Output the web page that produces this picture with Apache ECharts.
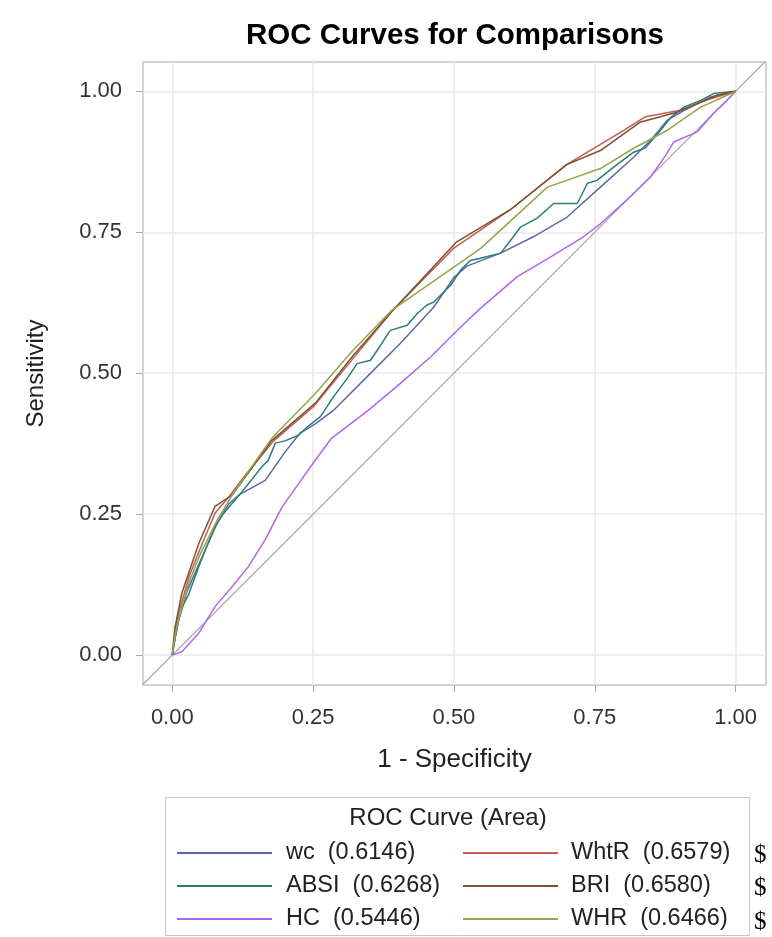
<!DOCTYPE html>
<html>
<head>
<meta charset="utf-8">
<script src="https://cdn.jsdelivr.net/npm/echarts@6/dist/echarts.min.js"></script>
<style>
html,body{margin:0;padding:0;background:#fff;}
#chart{width:772px;height:937px;}
</style>
</head>
<body>
<div id="chart"></div>
<script>
const seriesNames = ['wc', 'WhtR', 'ABSI', 'BRI', 'HC', 'WHR'];
const aucValues = ['0.6146', '0.6579', '0.6268', '0.6580', '0.5446', '0.6466'];
const tickValues = [0, 0.25, 0.5, 0.75, 1];
const diagonal = [[-0.1, -0.1], [1.1, 1.1]];

const wc = [[0,0],[0.005,0.03],[0.012,0.065],[0.025,0.11],[0.04,0.145],[0.06,0.19],[0.08,0.235],[0.1,0.268],[0.12,0.285],[0.165,0.31],[0.2,0.36],[0.227,0.394],[0.254,0.41],[0.286,0.434],[0.346,0.494],[0.405,0.553],[0.464,0.617],[0.5,0.67],[0.523,0.69],[0.583,0.713],[0.641,0.742],[0.701,0.777],[0.76,0.83],[0.819,0.883],[0.849,0.913],[0.879,0.949],[0.908,0.966],[0.956,0.99],[1,1]];
const WhtR = [[0,0],[0.005,0.045],[0.01,0.07],[0.03,0.14],[0.05,0.19],[0.076,0.252],[0.1,0.28],[0.13,0.32],[0.18,0.38],[0.25,0.44],[0.32,0.525],[0.39,0.61],[0.5,0.722],[0.6,0.79],[0.7,0.87],[0.8,0.93],[0.84,0.955],[0.9,0.966],[0.95,0.985],[1,1]];
const ABSI = [[0,0],[0.005,0.03],[0.011,0.062],[0.02,0.09],[0.03,0.11],[0.047,0.157],[0.06,0.19],[0.076,0.228],[0.09,0.25],[0.106,0.269],[0.124,0.29],[0.14,0.31],[0.159,0.334],[0.17,0.345],[0.183,0.376],[0.2,0.38],[0.224,0.39],[0.24,0.405],[0.263,0.423],[0.286,0.458],[0.31,0.49],[0.328,0.517],[0.352,0.523],[0.37,0.55],[0.387,0.576],[0.417,0.585],[0.435,0.606],[0.452,0.621],[0.464,0.626],[0.494,0.656],[0.512,0.683],[0.529,0.7],[0.547,0.704],[0.583,0.713],[0.6,0.735],[0.618,0.759],[0.648,0.775],[0.677,0.801],[0.719,0.801],[0.737,0.837],[0.754,0.842],[0.784,0.866],[0.819,0.892],[0.84,0.9],[0.867,0.931],[0.885,0.954],[0.908,0.972],[0.938,0.984],[0.961,0.996],[1,1]];
const BRI = [[0,0],[0.005,0.05],[0.017,0.11],[0.047,0.198],[0.076,0.264],[0.106,0.284],[0.14,0.33],[0.177,0.381],[0.254,0.447],[0.32,0.53],[0.39,0.61],[0.505,0.733],[0.6,0.79],[0.7,0.87],[0.76,0.895],[0.83,0.945],[0.896,0.963],[0.967,0.993],[1,1]];
const HC = [[0,0],[0.017,0.006],[0.047,0.039],[0.076,0.086],[0.105,0.12],[0.135,0.157],[0.165,0.205],[0.195,0.263],[0.225,0.305],[0.254,0.346],[0.283,0.385],[0.345,0.432],[0.405,0.482],[0.46,0.53],[0.512,0.582],[0.547,0.615],[0.612,0.671],[0.671,0.706],[0.73,0.742],[0.76,0.765],[0.813,0.813],[0.849,0.848],[0.875,0.885],[0.89,0.91],[0.932,0.928],[0.961,0.961],[0.985,0.984],[1,1]];
const WHR = [[0,0],[0.005,0.035],[0.01,0.06],[0.03,0.13],[0.05,0.18],[0.08,0.24],[0.11,0.29],[0.177,0.385],[0.254,0.464],[0.32,0.54],[0.39,0.612],[0.547,0.721],[0.666,0.83],[0.76,0.863],[0.819,0.899],[0.879,0.931],[0.938,0.972],[0.985,0.993],[1,1]];

const seriesData = { wc, WhtR, ABSI, BRI, HC, WHR };
const colors = { wc:'#5B69A8', WhtR:'#C45A52', ABSI:'#2A7E76', BRI:'#7A5230', HC:'#B066EE', WHR:'#93A64C' };

const font = '"Liberation Sans", Arial, Helvetica, sans-serif';
const chart = echarts.init(document.getElementById('chart'));

const series = seriesNames.map(n => ({
  name: n, type: 'line', data: seriesData[n], showSymbol: false, symbol: 'none',
  lineStyle: { color: colors[n], width: 1.5 }, itemStyle: { color: colors[n] },
  clip: true, animation: false, z: 3
}));
series.unshift({
  name: 'ref', type: 'line', data: diagonal, showSymbol: false, symbol: 'none',
  lineStyle: { color: '#A8A8A8', width: 1.2 }, clip: true, animation: false, silent: true, z: 2
});

function aucOf(name) { return aucValues[seriesNames.indexOf(name)]; }

function makeLegend(left, names, gap) {
  return {
    orient: 'vertical', left: left, top: 841, height: 110, padding: 0,
    data: names, icon: 'rect', itemWidth: 95, itemHeight: 2, itemGap: 9,
    textStyle: { fontFamily: font, fontSize: 23.5, lineHeight: 24, color: '#222', padding: [0, 0, 0, gap] },
    formatter: n => n + '  (' + aucOf(n) + ')', selectedMode: false
  };
}

const axisLabelStyle = { fontFamily: font, fontSize: 22, color: '#333', customValues: tickValues, formatter: v => v.toFixed(2) };

chart.setOption({
  animation: false,
  title: {
    text: 'ROC Curves for Comparisons', left: 450, top: 16, textAlign: 'center',
    textStyle: { fontFamily: font, fontSize: 29.5, fontWeight: 'bold', color: '#000' }
  },
  grid: { left: 143, right: 6, top: 62, bottom: 252, show: true, borderColor: '#A4A9AE', borderWidth: 1, containLabel: false },
  xAxis: {
    type: 'value', min: -0.052, max: 1.054,
    name: '1 - Specificity', nameLocation: 'middle', nameGap: 62,
    nameTextStyle: { fontFamily: font, fontSize: 26, color: '#222' },
    axisLine: { show: false, onZero: false },
    axisTick: { show: true, length: 7, lineStyle: { color: '#A4A9AE' }, customValues: tickValues },
    axisLabel: Object.assign({ margin: 22 }, axisLabelStyle),
    splitLine: { show: true, lineStyle: { color: '#E8E8E8', width: 1.5 } }
  },
  yAxis: {
    type: 'value', min: -0.053, max: 1.052,
    name: 'Sensitivity', nameLocation: 'middle', nameGap: 95, nameRotate: 90,
    nameTextStyle: { fontFamily: font, fontSize: 24, color: '#222' },
    axisLine: { show: false, onZero: false },
    axisTick: { show: true, length: 7, lineStyle: { color: '#A4A9AE' }, customValues: tickValues },
    axisLabel: Object.assign({ margin: 21 }, axisLabelStyle),
    splitLine: { show: true, lineStyle: { color: '#E8E8E8', width: 1.5 } }
  },
  legend: [
    makeLegend(177, ['wc', 'ABSI', 'HC'], 9),
    makeLegend(463, ['WhtR', 'BRI', 'WHR'], 8)
  ],
  graphic: [
    { type: 'rect', shape: { x: 165.5, y: 797.5, width: 584, height: 138 }, style: { fill: 'none', stroke: '#C8C8C8', lineWidth: 1 }, silent: true },
    { type: 'text', x: 448, y: 818, style: { text: 'ROC Curve (Area)', fontFamily: font, fontSize: 24, fill: '#222', align: 'center', verticalAlign: 'middle' } },
    { type: 'text', x: 754, y: 855, style: { text: '$', fontFamily: '"Liberation Serif", "DejaVu Serif", serif', fontSize: 25, fill: '#000', verticalAlign: 'middle' } },
    { type: 'text', x: 754, y: 888, style: { text: '$', fontFamily: '"Liberation Serif", "DejaVu Serif", serif', fontSize: 25, fill: '#000', verticalAlign: 'middle' } },
    { type: 'text', x: 754, y: 922, style: { text: '$', fontFamily: '"Liberation Serif", "DejaVu Serif", serif', fontSize: 25, fill: '#000', verticalAlign: 'middle' } }
  ],
  series: series
});
</script>
</body>
</html>
